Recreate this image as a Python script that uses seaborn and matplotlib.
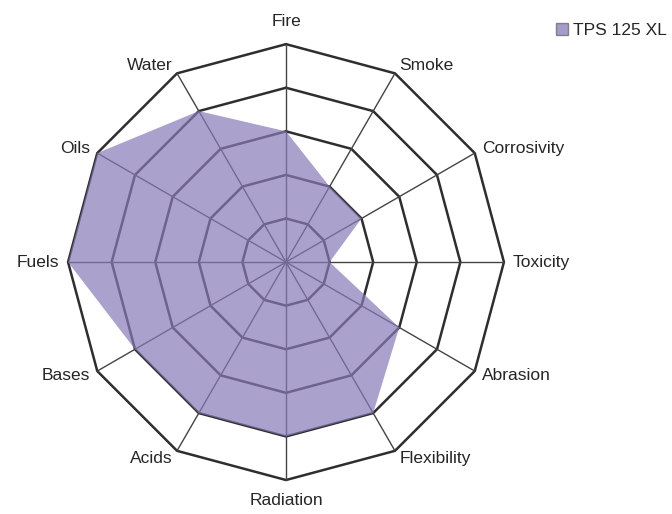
import numpy as np
import matplotlib.pyplot as plt
import seaborn as sns
from matplotlib.patches import Patch

# chemical / physical resistance scores, read clockwise from the top
categories = ["Fire", "Smoke", "Corrosivity", "Toxicity", "Abrasion", "Flexibility",
              "Radiation", "Acids", "Bases", "Fuels", "Oils", "Water"]
scores = [3, 2, 2, 1, 3, 4, 4, 4, 4, 5, 5, 4]
levels = [1, 2, 3, 4, 5]
series_name = "TPS 125 XL"

sns.set_theme(style="white")
plt.rcParams['font.family'] = ['Liberation Sans', 'DejaVu Sans']

fill_color = '#887ab8'

fig = plt.figure(figsize=(6.72, 5.14), dpi=100)
ax = fig.add_axes([0.1012, 0.0661, 0.6488, 0.848], projection='polar')
ax.set_theta_zero_location('N')
ax.set_theta_direction(-1)

n = len(categories)
angles = np.linspace(0, 2 * np.pi, n, endpoint=False)
closed = np.append(angles, angles[0])

# polygon grid rings + spokes
for lv in levels:
    ax.plot(closed, [lv] * (n + 1), color='#2e2e2e', lw=1.8, zorder=1, clip_on=False)
for a in angles:
    ax.plot([a, a], [0, levels[-1]], color='#444444', lw=1.0, zorder=1, clip_on=False)

vals = scores + scores[:1]
ax.fill(closed, vals, color=fill_color, alpha=0.7, lw=0, zorder=2)

ax.set_ylim(0, levels[-1])
ax.set_xticks([])
ax.set_yticks([])
ax.grid(False)
ax.spines['polar'].set_visible(False)
ax.set_facecolor('none')

# category labels around the outside
for a, lab in zip(angles, categories):
    deg = round(np.degrees(a))
    if deg == 0:
        ha, va, r = 'center', 'bottom', 5.35
    elif deg == 180:
        ha, va, r = 'center', 'top', 5.3
    elif deg < 180:
        ha, va, r = 'left', 'center', 5.2
    else:
        ha, va, r = 'right', 'center', 5.2
    ax.text(a, r, lab, ha=ha, va=va, fontsize=12.5, color='#262626')

fig.legend(handles=[Patch(facecolor=fill_color, alpha=0.75, edgecolor='#666666', label=series_name)],
           loc='upper right', bbox_to_anchor=(1.015, 0.985), frameon=False, fontsize=12.5,
           handlelength=0.7, handleheight=0.7, handletextpad=0.25, labelcolor='#262626')

plt.savefig("out.png", dpi=100)
